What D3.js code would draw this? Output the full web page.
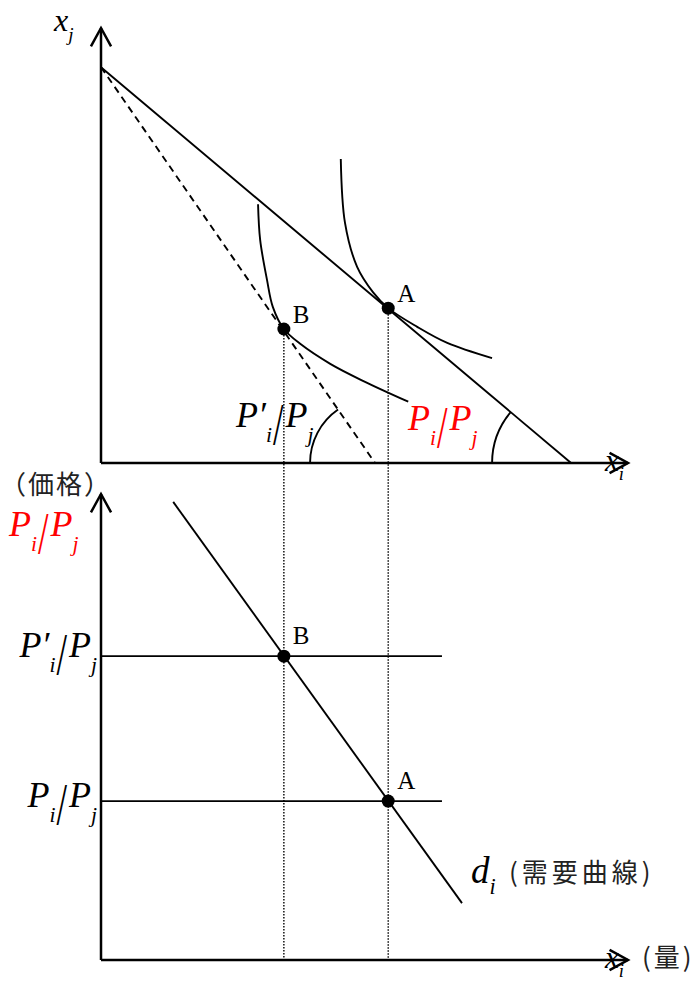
<!DOCTYPE html>
<html>
<head>
    <meta charset="utf-8">
    <title>需要曲線の導出</title>
    <script src="https://d3js.org/d3.v7.min.js"></script>
    <style>
        body { margin: 0; background: #fff; }
    </style>
</head>
<body>
    <svg width="697" height="981" id="mainSvg"></svg>
    <script>
        // 上図：x_i（横）と x_j（縦）、0〜100 の目盛り
        const budgetX = [0, 89.2];          // 予算線 (x_i 切片)
        const budgetY = [91.0, 0];
        const newBudgetX = [0, 52.0];       // 価格変化後の予算線（破線）
        const newBudgetY = [91.0, 0];
        const pointA = { name: 'A', x: 54.5, y: 35.6, p: 3.41 };
        const pointB = { name: 'B', x: 34.7, y: 30.8, p: 6.52 };
        // 無差別曲線
        const curve1X = [45.5, 46.3, 48.6, 51.6, 54.5, 60.0, 65.7, 74.2];
        const curve1Y = [69.9, 55.2, 45.1, 39.3, 35.6, 31.3, 27.6, 24.1];
        const curve2X = [29.8, 30.2, 31.5, 32.6, 34.7, 37.8, 43.5, 49.7, 58.3];
        const curve2Y = [59.5, 51.3, 42.1, 35.9, 30.8, 27.4, 22.8, 18.9, 14.1];
        // 下図：価格 0〜10
        const demandX = [13.7, 68.5];
        const demandP = [9.83, 1.22];
        const priceLineEnd = 64.7;

        const svg = d3.select('#mainSvg');
        const serif = '"Liberation Serif", "Times New Roman", Times, serif';
        const cjk = '"Noto Sans CJK JP", "Noto Sans CJK SC", sans-serif';

        const xScale = d3.scaleLinear().domain([0, 100]).range([101, 628]);
        const yTop = d3.scaleLinear().domain([0, 100]).range([463, 28]);
        const yBot = d3.scaleLinear().domain([0, 10]).range([960, 494]);

        const line = d3.line();

        // 軸と矢印
        function axisArrow(x1, y1, x2, y2) {
            svg.append('path')
                .attr('d', line([[x1, y1], [x2, y2]]))
                .attr('stroke', '#000').attr('stroke-width', 2.5).attr('fill', 'none');
            const ang = Math.atan2(y2 - y1, x2 - x1);
            const len = 21, spread = 0.5;
            const w1 = [x2 - len * Math.cos(ang - spread), y2 - len * Math.sin(ang - spread)];
            const w2 = [x2 - len * Math.cos(ang + spread), y2 - len * Math.sin(ang + spread)];
            svg.append('path')
                .attr('d', line([w1, [x2, y2], w2]))
                .attr('stroke', '#000').attr('stroke-width', 2.5).attr('fill', 'none');
        }
        axisArrow(xScale(0), yTop(0), xScale(0), yTop(100));
        axisArrow(xScale(0), yTop(0), xScale(100), yTop(0));
        axisArrow(xScale(0), yBot(0), xScale(0), yBot(10));
        axisArrow(xScale(0), yBot(0), xScale(100), yBot(0));

        // 補助の点線
        [pointA, pointB].forEach(d => {
            svg.append('path')
                .attr('d', line([[xScale(d.x), yTop(d.y)], [xScale(d.x), yBot(0)]]))
                .attr('stroke', '#000').attr('stroke-width', 1.4)
                .attr('stroke-dasharray', '1.5,1.5').attr('fill', 'none');
        });

        // 予算線
        svg.append('path')
            .attr('d', line(budgetX.map((v, i) => [xScale(v), yTop(budgetY[i])])))
            .attr('stroke', '#000').attr('stroke-width', 1.9).attr('fill', 'none');
        svg.append('path')
            .attr('d', line(newBudgetX.map((v, i) => [xScale(v), yTop(newBudgetY[i])])))
            .attr('stroke', '#000').attr('stroke-width', 1.9)
            .attr('stroke-dasharray', '7,5').attr('fill', 'none');

        // 無差別曲線
        const smooth = d3.line().curve(d3.curveCatmullRom.alpha(0.5));
        [[curve1X, curve1Y], [curve2X, curve2Y]].forEach(([xs, ys]) => {
            svg.append('path')
                .attr('d', smooth(xs.map((v, i) => [xScale(v), yTop(ys[i])])))
                .attr('stroke', '#000').attr('stroke-width', 1.9).attr('fill', 'none');
        });

        // 角度の弧
        function angleArc(xs, ys, r) {
            const cx = xScale(xs[1]), cy = yTop(ys[1]);
            const dx = xScale(xs[0]) - cx, dy = yTop(ys[0]) - cy;
            const theta = Math.atan2(-dy, -dx);
            const p = d3.path();
            p.moveTo(cx - r, cy);
            p.arc(cx, cy, r, Math.PI, Math.PI + theta, false);
            svg.append('path').attr('d', p.toString())
                .attr('stroke', '#000').attr('stroke-width', 1.9).attr('fill', 'none');
        }
        angleArc(newBudgetX, newBudgetY, 65);
        angleArc(budgetX, budgetY, 79);

        // 需要曲線と価格線
        svg.append('path')
            .attr('d', line(demandX.map((v, i) => [xScale(v), yBot(demandP[i])])))
            .attr('stroke', '#000').attr('stroke-width', 1.9).attr('fill', 'none');
        [pointA, pointB].forEach(d => {
            svg.append('path')
                .attr('d', line([[xScale(0), yBot(d.p)], [xScale(priceLineEnd), yBot(d.p)]]))
                .attr('stroke', '#000').attr('stroke-width', 1.9).attr('fill', 'none');
        });

        // 点
        [pointA, pointB].forEach(d => {
            svg.append('circle').attr('cx', xScale(d.x)).attr('cy', yTop(d.y)).attr('r', 6.5).attr('fill', '#000');
            svg.append('circle').attr('cx', xScale(d.x)).attr('cy', yBot(d.p)).attr('r', 6.5).attr('fill', '#000');
            svg.append('text').attr('x', xScale(d.x) + 9).attr('y', yTop(d.y) - 6)
                .style('font-family', serif).style('font-size', '25px').text(d.name);
            svg.append('text').attr('x', xScale(d.x) + 9).attr('y', yBot(d.p) - 12)
                .style('font-family', serif).style('font-size', '25px').text(d.name);
        });

        // P_i / P_j のラベル（斜線だけ縦に伸ばす）
        function ratioLabel(x0, y, fs, color, prime, alignEnd) {
            const g = svg.append('g').attr('fill', color);
            const left = g.append('text').attr('x', 0).attr('y', y)
                .style('font-family', serif).style('font-size', fs + 'px').style('font-style', 'italic');
            left.append('tspan').text(prime ? 'P′' : 'P');
            left.append('tspan').style('font-size', (fs * 0.6) + 'px').attr('dy', fs * 0.42).text('i');
            const wL = left.node().getComputedTextLength();
            const sfs = fs * 1.05;
            const slash = g.append('text').text('/')
                .style('font-family', serif).style('font-size', sfs + 'px')
                .attr('transform', `translate(${wL + 1},${y + fs * 0.47}) scale(1,1.55)`);
            const wS = slash.node().getComputedTextLength();
            const right = g.append('text').attr('x', wL + wS + 3).attr('y', y)
                .style('font-family', serif).style('font-size', fs + 'px').style('font-style', 'italic');
            right.append('tspan').text('P');
            right.append('tspan').style('font-size', (fs * 0.6) + 'px').attr('dy', fs * 0.42).text('j');
            const total = wL + wS + 3 + right.node().getComputedTextLength();
            g.attr('transform', `translate(${alignEnd ? x0 - total : x0},0)`);
        }
        ratioLabel(236, 427, 36, '#000', true, false);
        ratioLabel(408, 430, 36, '#ff0000', false, false);
        ratioLabel(9, 536, 36, '#ff0000', false, false);
        ratioLabel(97, 657, 36, '#000', true, true);
        ratioLabel(97, 807, 36, '#000', false, true);

        // 変数名ラベル
        function varLabel(x, y, base, sub, fs) {
            const t = svg.append('text').attr('x', x).attr('y', y)
                .style('font-family', serif).style('font-size', fs + 'px').style('font-style', 'italic');
            t.append('tspan').text(base);
            t.append('tspan').style('font-size', (fs * 0.6) + 'px').attr('dy', fs * 0.3).text(sub);
        }
        varLabel(54, 31, 'x', 'j', 32);
        varLabel(605, 471, 'x', 'i', 31);
        varLabel(605, 968, 'x', 'i', 31);
        varLabel(471, 883, 'd', 'i', 37);

        // 日本語ラベル
        svg.append('text').attr('x', 0).attr('y', 494)
            .style('font-family', cjk).style('font-size', '26px').attr('fill', '#222')
            .attr('letter-spacing', 2).text('（価格）');
        svg.append('text').attr('x', 509).attr('y', 882)
            .style('font-family', cjk).style('font-size', '26px').attr('fill', '#222')
            .attr('letter-spacing', 4).text('(需要曲線)');
        svg.append('text').attr('x', 642).attr('y', 967)
            .style('font-family', cjk).style('font-size', '26px').attr('fill', '#222')
            .attr('letter-spacing', 3).text('(量)');
    </script>
</body>
</html>
